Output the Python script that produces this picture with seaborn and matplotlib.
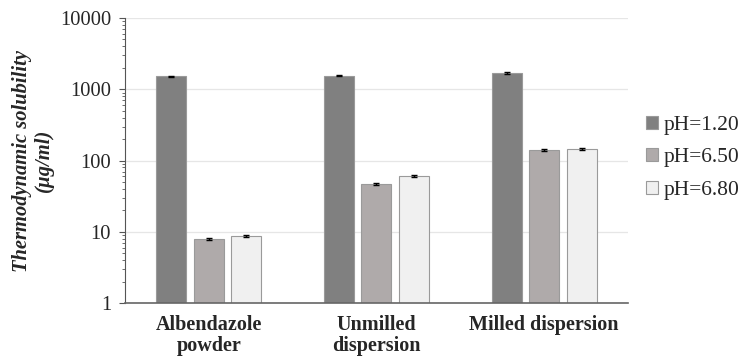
import numpy as np
import pandas as pd
import matplotlib
matplotlib.use("Agg")
import matplotlib.pyplot as plt
import seaborn as sns

formulations = ["Albendazole\npowder", "Unmilled\ndispersion", "Milled dispersion"]
media = ["pH=1.20", "pH=6.50", "pH=6.80"]
solubility_ph120 = [1520, 1560, 1700]
solubility_ph650 = [8.0, 47, 141]
solubility_ph680 = [8.8, 61, 145]
sd_ph120 = [40, 45, 45]
sd_ph650 = [0.25, 1.2, 3.5]
sd_ph680 = [0.2, 1.5, 3.0]

colors = ["#808080", "#AFAAAA", "#F0F0F0"]

rows = []
for medium, vals, sds in zip(media,
                             [solubility_ph120, solubility_ph650, solubility_ph680],
                             [sd_ph120, sd_ph650, sd_ph680]):
    for f, v, s in zip(formulations, vals, sds):
        rows.append({"formulation": f, "medium": medium, "solubility": v, "sd": s})
df = pd.DataFrame(rows)

sns.set_style("white")
plt.rcParams["font.family"] = ["Liberation Serif", "DejaVu Serif"]

fig = plt.figure(figsize=(7.44, 3.6), dpi=100)
ax = fig.add_axes([0.168, 0.158, 0.676, 0.792])

sns.barplot(data=df, x="formulation", y="solubility", hue="medium",
            order=formulations, hue_order=media, palette=colors, saturation=1,
            width=0.67, gap=0.2, errorbar=None, ax=ax,
            edgecolor="#9a9a9a", linewidth=0.8, legend=True)

ax.set_yscale("log")
ax.set_ylim(1, 10000)
ax.set_xlim(-0.5, 2.5)

# error bars at the centre of each bar
for container, medium in zip(ax.containers, media):
    sub = df[df["medium"] == medium].set_index("formulation").loc[formulations]
    xs = [p.get_x() + p.get_width() / 2 for p in container.patches]
    ax.errorbar(xs, sub["solubility"], yerr=sub["sd"], fmt="none",
                ecolor="black", elinewidth=1.0, capsize=2.5, capthick=1.0, zorder=5)

ax.set_yticks([1, 10, 100, 1000, 10000])
ax.set_yticklabels(["1", "10", "100", "1000", "10000"])
ax.yaxis.grid(True, which="major", color="#e6e6e6", linewidth=0.9)
ax.set_axisbelow(True)
ax.tick_params(axis="y", which="major", left=True, length=4, width=0.8, color="#555555",
               labelsize=14.8, pad=6)
ax.tick_params(axis="y", which="minor", left=True, length=2, width=0.6, color="#555555")
ax.tick_params(axis="x", which="both", bottom=False, labelsize=14.5, pad=5)
for lbl in ax.get_xticklabels():
    lbl.set_fontweight("bold")
    lbl.set_linespacing(1.1)

for side in ["top", "right"]:
    ax.spines[side].set_visible(False)
ax.spines["left"].set_color("#555555")
ax.spines["left"].set_linewidth(0.8)
ax.spines["bottom"].set_color("#666666")
ax.spines["bottom"].set_linewidth(1.2)

ax.set_xlabel("")
ax.set_ylabel("Thermodynamic solubility\n(µg/ml)", fontsize=14.8, fontweight="bold",
              fontstyle="italic", labelpad=4, linespacing=1.15)

leg = ax.legend(loc="center left", bbox_to_anchor=(0.868, 0.562),
                bbox_transform=fig.transFigure, frameon=False, fontsize=15.5,
                handlelength=0.55, handleheight=0.55, handletextpad=0.3,
                labelspacing=0.62, borderpad=0, borderaxespad=0)

fig.savefig("out.png", dpi=100)
